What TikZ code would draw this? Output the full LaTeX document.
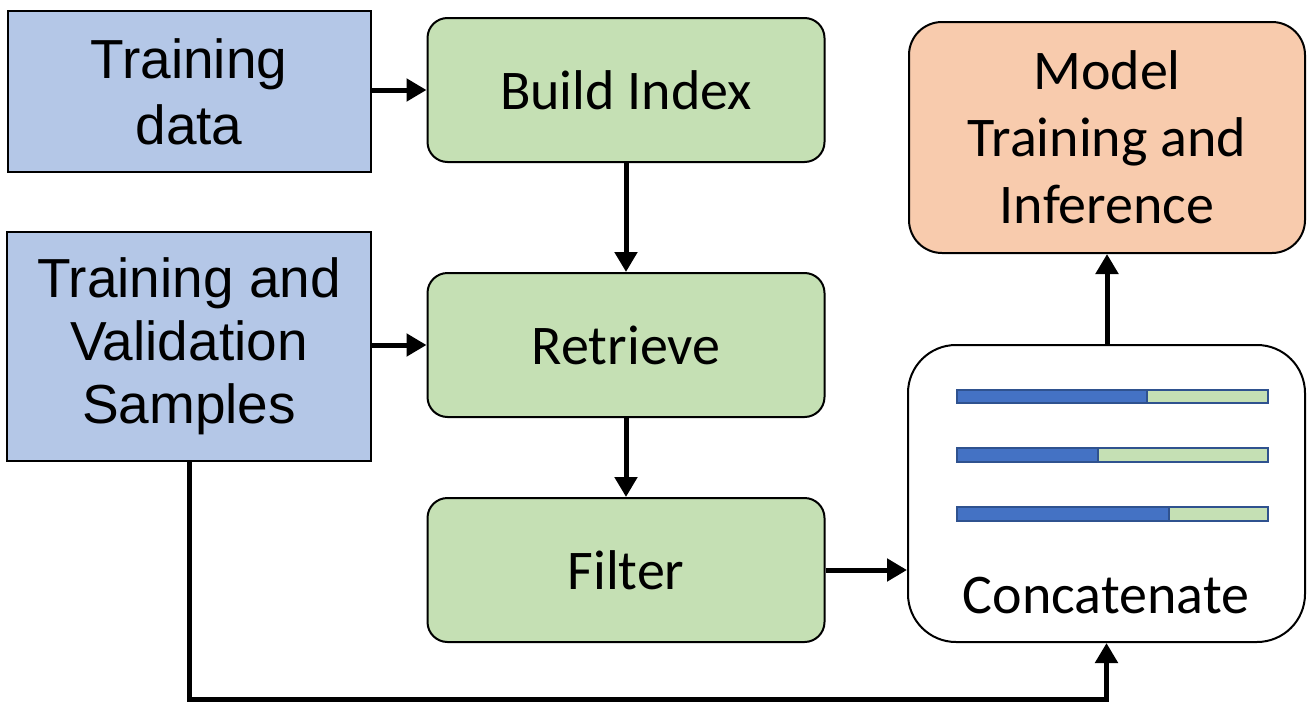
\documentclass[tikz,border=0pt]{standalone}
\usepackage{fontspec}
\newfontfamily\arialf{Liberation Sans}
\newfontfamily\calf{Carlito}
\usetikzlibrary{arrows.meta}
\definecolor{boxblue}{HTML}{B4C7E7}
\definecolor{boxgreen}{HTML}{C5E0B4}
\definecolor{boxorange}{HTML}{F8CBAD}
\definecolor{barblue}{HTML}{4472C4}
\definecolor{barline}{HTML}{2F528F}
\tikzset{
  inbox/.style={draw=black, line width=2pt, fill=boxblue, inner sep=0pt, align=center,
    font=\arialf\fontsize{55}{66}\selectfont},
  stepbox/.style={draw=black, line width=2pt, fill=boxgreen, rounded corners=20pt, inner sep=0pt,
    minimum width=397pt, minimum height=144pt, align=center, font=\calf\fontsize{56}{67}\selectfont},
  flow/.style={line width=5pt, -{Triangle[length=20pt,width=22pt]}},
}
\begin{document}
\begin{tikzpicture}[x=1pt,y=-1pt]
\useasboundingbox[fill=white] (0,0) rectangle (1312,712);
\node[inbox, minimum width=363pt, minimum height=161pt] (td) at (189,91.5) {Training\\data};
\node[inbox, minimum width=364pt, minimum height=229pt, font=\arialf\fontsize{55}{63}\selectfont] (tvs) at (189,346.5) {Training and\\Validation\\Samples};
\node[stepbox] (bi) at (626,90) {Build Index};
\node[stepbox] (ret) at (626,345) {Retrieve};
\node[stepbox] (fil) at (626,570) {Filter};
\node[draw=black, line width=2pt, fill=boxorange, rounded corners=33pt, inner sep=0pt,
  minimum width=396pt, minimum height=231pt, align=center,
  font=\calf\fontsize{56}{67}\selectfont] (mod) at (1107,137.5) {Model\\Training and\\Inference};
\node[draw=black, line width=2pt, fill=white, rounded corners=48pt, inner sep=0pt,
  minimum width=397pt, minimum height=297pt] (cat) at (1106.5,493.5) {};
\node[anchor=base, inner sep=0pt, font=\calf\fontsize{56}{67}\selectfont] (catlabel) at (1106,613) {Concatenate};
% bars
\foreach \ya/\yb/\xs in {390/403/1147, 448/462/1098, 507/521/1169}{
  \fill[barblue] (957,\ya) rectangle (\xs,\yb);
  \fill[boxgreen] (\xs,\ya) rectangle (1268,\yb);
  \draw[barline, line width=1.2pt] (957,\ya) rectangle (1268,\yb);
  \draw[barline, line width=1.2pt] (\xs,\ya) -- (\xs,\yb);
}
\coordinate (low) at (0,699);
\draw[flow] (td.east |- bi.west) -- (bi.west);
\draw[flow] (tvs.east |- ret.west) -- (ret.west);
\draw[flow] (bi.south) -- (ret.north);
\draw[flow] (ret.south) -- (fil.north);
\draw[flow] (fil.east) -- (fil.east -| cat.west);
\draw[flow] (cat.north -| mod.south) -- (mod.south);
\draw[flow] (tvs.south) |- (cat.south |- low) -- (cat.south);
\end{tikzpicture}
\end{document}
